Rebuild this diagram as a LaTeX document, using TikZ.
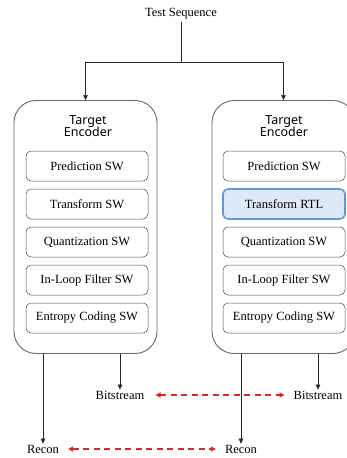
\documentclass[tikz,border=0pt]{standalone}
\usepackage{fontspec}
\setmainfont{Liberation Serif}
\newfontfamily\labelsans{Noto Sans}
\usetikzlibrary{arrows.meta}
\definecolor{rtlfill}{HTML}{DDE9F6}
\definecolor{rtledge}{HTML}{5B9BD5}
\definecolor{cmpred}{HTML}{D42A2A}
\begin{document}
\begin{tikzpicture}[x=1pt,y=-1pt,
  txt/.style={font=\fontsize{12.5}{14}\selectfont, inner sep=2pt},
  encbox/.style={draw=black!60, line width=0.9pt, rounded corners=22pt, minimum width=143pt, minimum height=253pt},
  stage/.style={draw=black!70, line width=0.5pt, rounded corners=5pt, minimum width=122pt, minimum height=30pt, font=\fontsize{12.5}{14}\selectfont},
  rtl/.style={stage, draw=rtledge, fill=rtlfill, line width=1.6pt},
  head/.style={font=\labelsans\fontsize{12.5}{14}\selectfont, align=center},
  arr/.style={draw=black!85, line width=0.5pt, -{Triangle[length=5pt,width=4.5pt]}},
  cmp/.style={draw=cmpred, line width=1.1pt, dash pattern=on 6pt off 4.5pt, {Triangle[length=5pt,width=5pt]}-{Triangle[length=5pt,width=5pt]}}
]
\clip (0,0) rectangle (347,458);
\useasboundingbox (0,0) rectangle (347,458);

% input
\node[txt] (ts) at (181,14) {Test Sequence};
\coordinate (split) at (181,62);

% left encoder (all software)
\node[encbox] (encL) at (85.5,227) {};
\node[head] (hL) at (88,126) {Target\\[-2pt]Encoder};
\node[stage] (pL) at (87,166) {Prediction SW};
\node[stage] (tL) at (87,204) {Transform SW};
\node[stage] (qL) at (87,242) {Quantization SW};
\node[stage] (fL) at (87,280) {In-Loop Filter SW};
\node[stage] (eL) at (87,318) {Entropy Coding SW};

% right encoder (transform in RTL)
\node[encbox] (encR) at (283.5,227) {};
\node[head] (hR) at (284,126) {Target\\[-2pt]Encoder};
\node[stage] (pR) at (284,166) {Prediction SW};
\node[rtl]   (tR) at (284,204) {Transform RTL};
\node[stage] (qR) at (284,242) {Quantization SW};
\node[stage] (fR) at (284,280) {In-Loop Filter SW};
\node[stage] (eR) at (284,318) {Entropy Coding SW};

% outputs
\node[txt] (bsL) at (120,395) {Bitstream};
\node[txt] (bsR) at (318,395) {Bitstream};
\node[txt] (rcL) at (43,449) {Recon};
\node[txt] (rcR) at (241,449) {Recon};

% test sequence fan-out
\draw[draw=black!85, line width=0.5pt] (ts.south) -- (split);
\draw[arr] (split) -| (encL.north);
\draw[arr] (split) -| (encR.north);

% encoder outputs
\draw[arr] (bsL.north |- encL.south) -- ([yshift=-1pt]bsL.north);
\draw[arr] (bsR.north |- encR.south) -- ([yshift=-1pt]bsR.north);
\draw[arr] (rcL.north |- encL.south) -- ([yshift=-1pt]rcL.north);
\draw[arr] (rcR.north |- encR.south) -- ([yshift=-1pt]rcR.north);

% comparisons
\draw[cmp] ([xshift=9pt]bsL.east) -- ([xshift=-7pt]bsR.west);
\draw[cmp] ([xshift=7pt]rcL.east) -- ([xshift=-7pt]rcR.west);
\end{tikzpicture}
\end{document}
